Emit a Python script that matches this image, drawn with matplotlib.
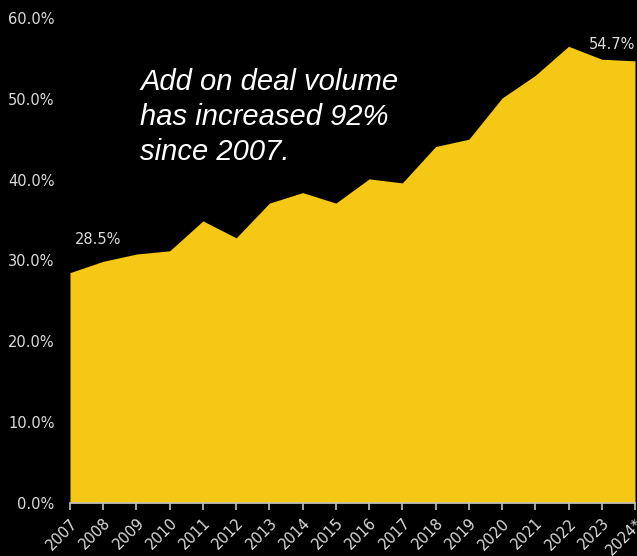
import matplotlib

matplotlib.use("Agg")
import matplotlib.pyplot as plt
from matplotlib.ticker import FuncFormatter

# Add-on share of deal volume by year
years = list(range(2007, 2025))
year_labels = [str(y) for y in years[:-1]] + ["2024*"]
add_on_share = [
    28.5, 29.9, 30.8, 31.2, 34.9, 32.8, 37.1, 38.4, 37.1,
    40.1, 39.6, 44.1, 45.0, 50.1, 52.9, 56.5, 54.9, 54.7,
]

fill_color = "#F5C816"
text_color = "#dcdcdc"

fig = plt.figure(figsize=(6.37, 5.56), dpi=100, facecolor="black")
ax = fig.add_axes([70 / 637, 1 - 503 / 556, 565 / 637, 485 / 556])
ax.set_facecolor("black")

ax.fill_between(years, add_on_share, 0, color=fill_color, linewidth=0)

ax.set_xlim(years[0], years[-1])
ax.set_ylim(0, 60)
ax.set_yticks(range(0, 61, 10))
ax.yaxis.set_major_formatter(FuncFormatter(lambda v, _: f"{v:.1f}%"))
ax.set_xticks(years)
ax.set_xticklabels(year_labels, rotation=45, ha="right", rotation_mode="anchor")

for side in ["top", "right", "left"]:
    ax.spines[side].set_visible(False)
ax.spines["bottom"].set_color("#bfbfbf")
ax.spines["bottom"].set_linewidth(1.2)

ax.tick_params(axis="y", length=0, pad=11, labelsize=10.5, labelcolor=text_color)
ax.tick_params(axis="x", length=5, width=1.2, color="#bfbfbf", pad=4,
               labelsize=10.5, labelcolor=text_color)

# first and last values
ax.annotate(f"{add_on_share[0]}%", xy=(years[0], add_on_share[0]),
            xytext=(5, 33), textcoords="offset pixels",
            ha="left", va="center", fontsize=10.5, color=text_color)
ax.annotate(f"{add_on_share[-1]}%", xy=(years[-1], add_on_share[-1]),
            xytext=(0, 16), textcoords="offset pixels",
            ha="right", va="center", fontsize=10.5, color=text_color)

fig.text(140 / 637, 1 - 117 / 556,
         "Add on deal volume\nhas increased 92%\nsince 2007.",
         ha="left", va="center", fontsize=21, style="italic",
         family="Liberation Sans", color="white", linespacing=1.32)

fig.savefig("out.png", dpi=100, facecolor="black")
